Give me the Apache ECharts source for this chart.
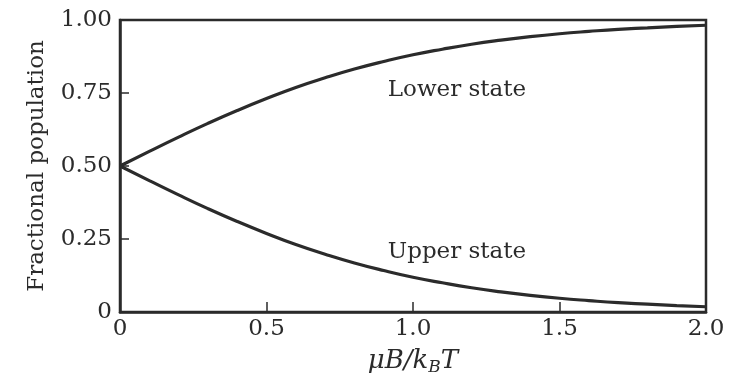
<!DOCTYPE html>
<html>
<head>
<meta charset="utf-8">
<script src="https://cdn.jsdelivr.net/npm/echarts@6/dist/echarts.min.js"></script>
<style>
  html, body { margin: 0; padding: 0; background: #fff; }
  #chart { width: 732px; height: 378px; }
</style>
</head>
<body>
<div id="chart"></div>
<script>
// Two-level paramagnet: fractional population vs μB/k_BT
const xValues = [0, 0.1, 0.2, 0.3, 0.4, 0.5, 0.6, 0.7, 0.8, 0.9, 1.0,
                 1.1, 1.2, 1.3, 1.4, 1.5, 1.6, 1.7, 1.8, 1.9, 2.0];
const lowerState = [0.500, 0.550, 0.599, 0.646, 0.690, 0.731, 0.769, 0.802, 0.832, 0.858, 0.881,
                    0.900, 0.917, 0.931, 0.943, 0.953, 0.961, 0.968, 0.973, 0.978, 0.982];
const upperState = [0.500, 0.450, 0.401, 0.354, 0.310, 0.269, 0.231, 0.198, 0.168, 0.142, 0.119,
                    0.100, 0.083, 0.069, 0.057, 0.047, 0.039, 0.032, 0.027, 0.022, 0.018];
const xTickLabels = ['0', '0.5', '1.0', '1.5', '2.0'];
const yTickLabels = ['0', '0.25', '0.50', '0.75', '1.00'];
const curveLabels = ['Lower state', 'Upper state'];
const labelAnchors = [[1.15, 0.76], [1.15, 0.205]];

const ink = '#2b2b2b';
const serif = '"DejaVu Serif", "Liberation Serif", serif';

const chart = echarts.init(document.getElementById('chart'));

function curve(name, values, label, anchor) {
  return {
    name: name,
    type: 'line',
    data: xValues.map((x, i) => [x, values[i]]),
    smooth: true,
    showSymbol: false,
    lineStyle: { color: ink, width: 3.2 },
    markPoint: {
      symbol: 'circle',
      symbolSize: 1,
      itemStyle: { color: 'rgba(0,0,0,0)' },
      data: [{ coord: anchor, value: label }],
      label: {
        show: true,
        position: 'inside',
        formatter: label,
        color: ink,
        fontFamily: serif,
        fontSize: 23
      }
    }
  };
}

chart.setOption({
  backgroundColor: '#fff',
  animation: false,
  grid: {
    left: 120, top: 20, right: 26, bottom: 66,
    outerBoundsMode: 'none',
    containLabel: false,
    show: true, borderColor: ink, borderWidth: 2.5
  },
  xAxis: {
    type: 'value',
    min: 0, max: 2, interval: 0.5,
    name: '{i|μB/k}{s|B}{i|T}',
    nameLocation: 'middle',
    nameGap: 34,
    nameTextStyle: {
      rich: {
        i: { fontFamily: serif, fontStyle: 'italic', fontSize: 26, color: ink },
        s: { fontFamily: serif, fontStyle: 'italic', fontSize: 17, color: ink, verticalAlign: 'bottom', padding: [13, 0, 0, 0] }
      }
    },
    axisLine: { show: true, lineStyle: { color: ink, width: 2.5 } },
    axisTick: { show: true, inside: true, length: 10, lineStyle: { color: ink, width: 1.5 } },
    splitLine: { show: false },
    axisLabel: {
      color: ink, fontFamily: serif, fontSize: 23, margin: 6,
      formatter: v => xTickLabels[Math.round(v / 0.5)]
    }
  },
  yAxis: {
    type: 'value',
    min: 0, max: 1, interval: 0.25,
    name: 'Fractional population',
    nameLocation: 'middle',
    nameGap: 71,
    nameTextStyle: { color: ink, fontFamily: serif, fontSize: 23 },
    axisLine: { show: true, lineStyle: { color: ink, width: 2.5 } },
    axisTick: { show: true, inside: true, length: 9, lineStyle: { color: ink, width: 1.5 } },
    splitLine: { show: false },
    axisLabel: {
      color: ink, fontFamily: serif, fontSize: 23, margin: 8,
      formatter: v => yTickLabels[Math.round(v / 0.25)]
    }
  },
  series: [
    curve('Lower state', lowerState, curveLabels[0], labelAnchors[0]),
    curve('Upper state', upperState, curveLabels[1], labelAnchors[1])
  ]
});
</script>
</body>
</html>
